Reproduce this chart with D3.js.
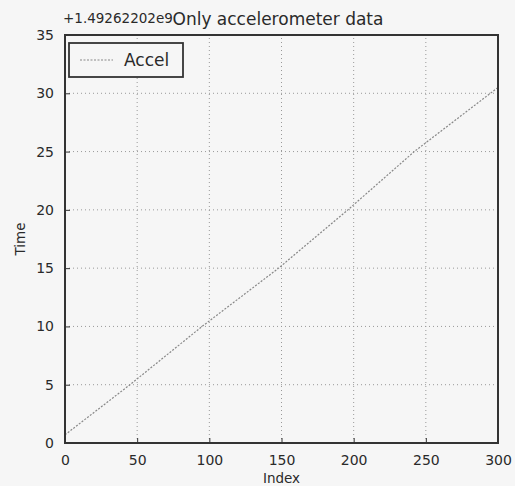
<!DOCTYPE html>
<html>
<head>
<meta charset="utf-8">
<script src="https://cdn.jsdelivr.net/npm/d3@7"></script>
<style>
  body { margin: 0; background: #f6f6f6; }
  text { font-family: "DejaVu Sans", sans-serif; fill: #2a2a2a; }
</style>
</head>
<body>
<div id="chart"></div>
<script>
var width = 515;
var height = 486;

// values (time offset by +1.49262202e9)
var indexValues = [0, 45, 95, 148, 196, 242, 300];
var timeValues = [0.7, 5, 10, 15, 20, 25, 30.5];
var xTicks = [0, 50, 100, 150, 200, 250, 300];
var yTicks = [0, 5, 10, 15, 20, 25, 30, 35];

var margin = {left: 65, right: 17, top: 35, bottom: 43};

var svg = d3.select("#chart").append("svg")
    .attr("width", width)
    .attr("height", height);

svg.append("rect")
    .attr("width", width).attr("height", height)
    .attr("fill", "#f6f6f6");

var x = d3.scaleLinear().domain([0, 300]).range([margin.left, width - margin.right]);
var y = d3.scaleLinear().domain([0, 35]).range([height - margin.bottom, margin.top]);

// grid
svg.append("g")
    .selectAll("line")
    .data(xTicks.slice(1, -1))
    .enter().append("line")
    .attr("x1", d => x(d)).attr("x2", d => x(d))
    .attr("y1", y(0)).attr("y2", y(35))
    .attr("stroke", "#999").attr("stroke-width", 1)
    .attr("stroke-dasharray", "1,3");

svg.append("g")
    .selectAll("line")
    .data(yTicks.slice(1, -1))
    .enter().append("line")
    .attr("x1", x(0)).attr("x2", x(300))
    .attr("y1", d => y(d)).attr("y2", d => y(d))
    .attr("stroke", "#999").attr("stroke-width", 1)
    .attr("stroke-dasharray", "1,3");

// axes (ticks inside, matplotlib style)
var xAxis = svg.append("g")
    .attr("transform", "translate(0," + y(0) + ")")
    .call(d3.axisBottom(x).tickValues(xTicks).tickSize(-5).tickPadding(12));
var yAxis = svg.append("g")
    .attr("transform", "translate(" + x(0) + ",0)")
    .call(d3.axisLeft(y).tickValues(yTicks).tickSize(-5).tickPadding(11));

[xAxis, yAxis].forEach(function (a) {
    a.select(".domain").remove();
    a.selectAll("line").attr("stroke", "#333");
    a.selectAll("text")
        .style("font-family", "DejaVu Sans, sans-serif")
        .style("font-size", "14px")
        .attr("fill", "#2a2a2a");
});

// data line
var line = d3.line()
    .x((d, i) => x(indexValues[i]))
    .y(d => y(d));

svg.append("path")
    .datum(timeValues)
    .attr("d", line)
    .attr("fill", "none")
    .attr("stroke", "#888")
    .attr("stroke-width", 1.2)
    .attr("stroke-dasharray", "2,1.5");

// frame
svg.append("rect")
    .attr("x", x(0)).attr("y", y(35))
    .attr("width", x(300) - x(0)).attr("height", y(0) - y(35))
    .attr("fill", "none")
    .attr("stroke", "#333")
    .attr("stroke-width", 2);

// legend
var legend = svg.append("g");
legend.append("rect")
    .attr("x", 69).attr("y", 43)
    .attr("width", 114).attr("height", 34)
    .attr("fill", "#f6f6f6")
    .attr("stroke", "#333").attr("stroke-width", 1.8);
legend.append("line")
    .attr("x1", 80).attr("x2", 113)
    .attr("y1", 60).attr("y2", 60)
    .attr("stroke", "#888").attr("stroke-width", 1.2)
    .attr("stroke-dasharray", "2,1.5");
legend.append("text")
    .attr("x", 124).attr("y", 66)
    .style("font-size", "17px")
    .text("Accel");

// texts
svg.append("text")
    .attr("x", 278).attr("y", 25)
    .attr("text-anchor", "middle")
    .style("font-size", "17px")
    .text("Only accelerometer data");

svg.append("text")
    .attr("x", 63).attr("y", 23)
    .style("font-size", "13.5px")
    .text("+1.49262202e9");

svg.append("text")
    .attr("x", (x(0) + x(300)) / 2).attr("y", 483)
    .attr("text-anchor", "middle")
    .style("font-size", "13.5px")
    .text("Index");

svg.append("text")
    .attr("transform", "translate(25," + (y(0) + y(35)) / 2 + ") rotate(-90)")
    .attr("text-anchor", "middle")
    .style("font-size", "13.5px")
    .text("Time");
</script>
</body>
</html>
